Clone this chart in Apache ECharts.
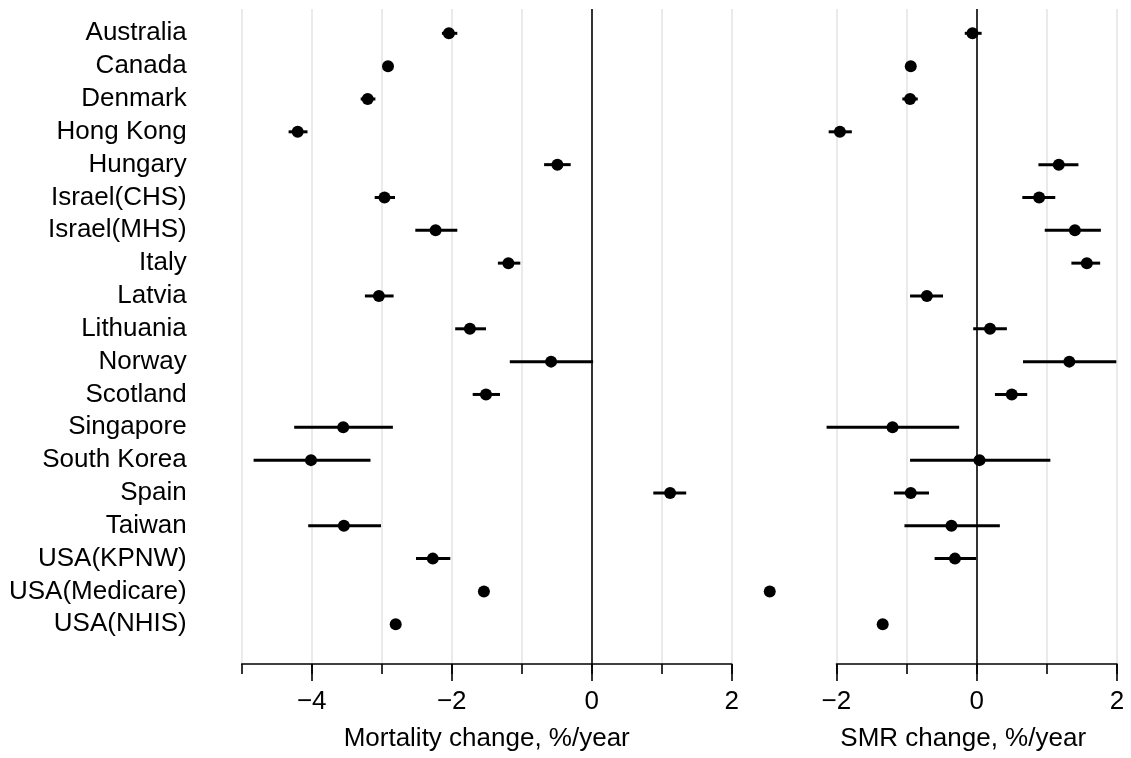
<!DOCTYPE html>
<html>
<head>
<meta charset="utf-8">
<script src="https://cdn.jsdelivr.net/npm/echarts@6/dist/echarts.min.js"></script>
<style>
  html, body { margin: 0; padding: 0; background: #fff; }
  #chart { width: 1131px; height: 758px; }
</style>
</head>
<body>
<div id="chart"></div>
<script>
// Study populations, top to bottom
const countries = ['Australia', 'Canada', 'Denmark', 'Hong Kong', 'Hungary', 'Israel(CHS)', 'Israel(MHS)',
  'Italy', 'Latvia', 'Lithuania', 'Norway', 'Scotland', 'Singapore', 'South Korea', 'Spain', 'Taiwan',
  'USA(KPNW)', 'USA(Medicare)', 'USA(NHIS)'];

// Mortality change, %/year: estimate and interval
const mortality = [-2.04, -2.91, -3.20, -4.20, -0.49, -2.96, -2.23, -1.19, -3.04, -1.74, -0.58, -1.51,
  -3.55, -4.01, 1.12, -3.54, -2.27, -1.54, -2.80];
const mortalityLow = [-2.14, -2.95, -3.30, -4.33, -0.68, -3.10, -2.52, -1.34, -3.24, -1.95, -1.17, -1.70,
  -4.25, -4.83, 0.88, -4.05, -2.51, -1.57, -2.83];
const mortalityHigh = [-1.92, -2.87, -3.09, -4.06, -0.30, -2.81, -1.92, -1.02, -2.83, -1.51, 0.02, -1.31,
  -2.84, -3.16, 1.35, -3.01, -2.02, -1.51, -2.77];

// SMR change, %/year: estimate and interval
const smr = [-0.06, -0.94, -0.95, -1.95, 1.17, 0.89, 1.40, 1.57, -0.71, 0.19, 1.32, 0.50,
  -1.20, 0.04, -0.94, -0.36, -0.31, -2.95, -1.34];
const smrLow = [-0.17, -0.98, -1.06, -2.11, 0.88, 0.65, 0.97, 1.35, -0.95, -0.05, 0.66, 0.26,
  -2.14, -0.95, -1.18, -1.03, -0.60, -2.98, -1.37];
const smrHigh = [0.07, -0.90, -0.84, -1.78, 1.45, 1.12, 1.77, 1.76, -0.48, 0.43, 1.99, 0.72,
  -0.25, 1.05, -0.68, 0.33, -0.01, -2.92, -1.31];

// Axis titles
const mortalityTitle = 'Mortality change, %/year';
const smrTitle = 'SMR change, %/year';

const FONT = "'Liberation Sans', Arial, Helvetica, sans-serif";
const FS = 26;
const GRID_GREY = '#e5e5e5';

const minusFmt = v => (v < 0 ? '\u2212' + Math.abs(v) : String(v));

// Panel geometry (pixels per unit is identical across the grids of one panel)
const L_UNIT = 70, L_ZERO = 591.7;
const R_UNIT = 70.15, R_ZERO = 976.7;
const FULL_TOP = 9, FULL_H = 655;          // gridlines and axis line
const ROW_TOP = 16.9, ROW_H = 623.8;        // 19 category bands

const grids = [
  { left: L_ZERO - 5 * L_UNIT, top: FULL_TOP, width: 7 * L_UNIT, height: FULL_H },   // 0 left background
  { left: L_ZERO - 4 * L_UNIT, top: FULL_TOP, width: 6 * L_UNIT, height: FULL_H },   // 1 left major ticks
  { left: L_ZERO - 5 * L_UNIT, top: ROW_TOP, width: 7 * L_UNIT, height: ROW_H },     // 2 left data
  { left: R_ZERO - 2 * R_UNIT, top: FULL_TOP, width: 4 * R_UNIT, height: FULL_H },   // 3 right background
  { left: R_ZERO - 2 * R_UNIT, top: FULL_TOP, width: 4 * R_UNIT, height: FULL_H },   // 4 right major ticks
  { left: R_ZERO - 3 * R_UNIT, top: ROW_TOP, width: 5 * R_UNIT, height: ROW_H }      // 5 right data
];

const titleStyle = { color: '#000', fontSize: FS, fontFamily: FONT };

function bgAxis(gridIndex, min, max, colors, title, titlePadding) {
  return {
    type: 'value', gridIndex, min, max, interval: 1, position: 'bottom',
    axisLine: { show: true, lineStyle: { color: '#000', width: 1.6 } },
    axisTick: { show: true, length: 10, lineStyle: { color: '#000', width: 1.6 } },
    axisLabel: { show: false },
    splitLine: { show: true, lineStyle: { color: colors, width: 1.6 } },
    name: title, nameLocation: 'middle', nameGap: 62,
    nameTextStyle: Object.assign({ padding: titlePadding }, titleStyle)
  };
}

function majorAxis(gridIndex, min, max) {
  return {
    type: 'value', gridIndex, min, max, interval: 2, position: 'bottom',
    axisLine: { show: false },
    axisTick: { show: true, length: 17, lineStyle: { color: '#000', width: 1.6 } },
    axisLabel: { show: true, color: '#000', fontSize: FS, fontFamily: FONT, margin: 25, formatter: minusFmt },
    splitLine: { show: false }
  };
}

function hiddenX(gridIndex, min, max) {
  return { type: 'value', gridIndex, min, max, show: false };
}

const xAxes = [
  bgAxis(0, -5, 2, [GRID_GREY, GRID_GREY, GRID_GREY, GRID_GREY, GRID_GREY, '#000', GRID_GREY, GRID_GREY],
    mortalityTitle, [0, 0, 0, 0]),
  majorAxis(1, -4, 2),
  hiddenX(2, -5, 2),
  bgAxis(3, -2, 2, [GRID_GREY, GRID_GREY, '#000', GRID_GREY, GRID_GREY], smrTitle, [0, 27, 0, 0]),
  majorAxis(4, -2, 2),
  hiddenX(5, -3, 2)
];

const yAxes = [
  { type: 'value', gridIndex: 0, show: false },
  { type: 'value', gridIndex: 1, show: false },
  {
    type: 'category', gridIndex: 2, data: countries, inverse: true, boundaryGap: true,
    axisLine: { show: false }, axisTick: { show: false }, splitLine: { show: false },
    axisLabel: { show: true, color: '#000', fontSize: FS, fontFamily: FONT, margin: 55, interval: 0,
      padding: [2, 0, 0, 0] }
  },
  { type: 'value', gridIndex: 3, show: false },
  { type: 'value', gridIndex: 4, show: false },
  { type: 'category', gridIndex: 5, data: countries, inverse: true, boundaryGap: true, show: false }
];

function intervalSeries(axisIndex, low, high) {
  return {
    type: 'custom', xAxisIndex: axisIndex, yAxisIndex: axisIndex, z: 3,
    data: countries.map((c, i) => [low[i], high[i], i]),
    encode: { x: [0, 1], y: 2 },
    renderItem: (params, api) => {
      const row = api.value(2);
      const a = api.coord([api.value(0), row]);
      const b = api.coord([api.value(1), row]);
      return {
        type: 'line',
        shape: { x1: a[0], y1: a[1], x2: b[0], y2: b[1] },
        style: { stroke: '#000', lineWidth: 3, lineCap: 'butt' }
      };
    }
  };
}

function pointSeries(axisIndex, values) {
  return {
    type: 'scatter', xAxisIndex: axisIndex, yAxisIndex: axisIndex, z: 4,
    symbol: 'circle', symbolSize: 12,
    itemStyle: { color: '#000', opacity: 1 },
    emphasis: { disabled: true },
    data: countries.map((c, i) => [values[i], i])
  };
}

const chart = echarts.init(document.getElementById('chart'), null, { renderer: 'canvas' });
chart.setOption({
  animation: false,
  backgroundColor: '#fff',
  textStyle: { fontFamily: FONT },
  grid: grids,
  xAxis: xAxes,
  yAxis: yAxes,
  series: [
    intervalSeries(2, mortalityLow, mortalityHigh),
    pointSeries(2, mortality),
    intervalSeries(5, smrLow, smrHigh),
    pointSeries(5, smr)
  ]
});
</script>
</body>
</html>
